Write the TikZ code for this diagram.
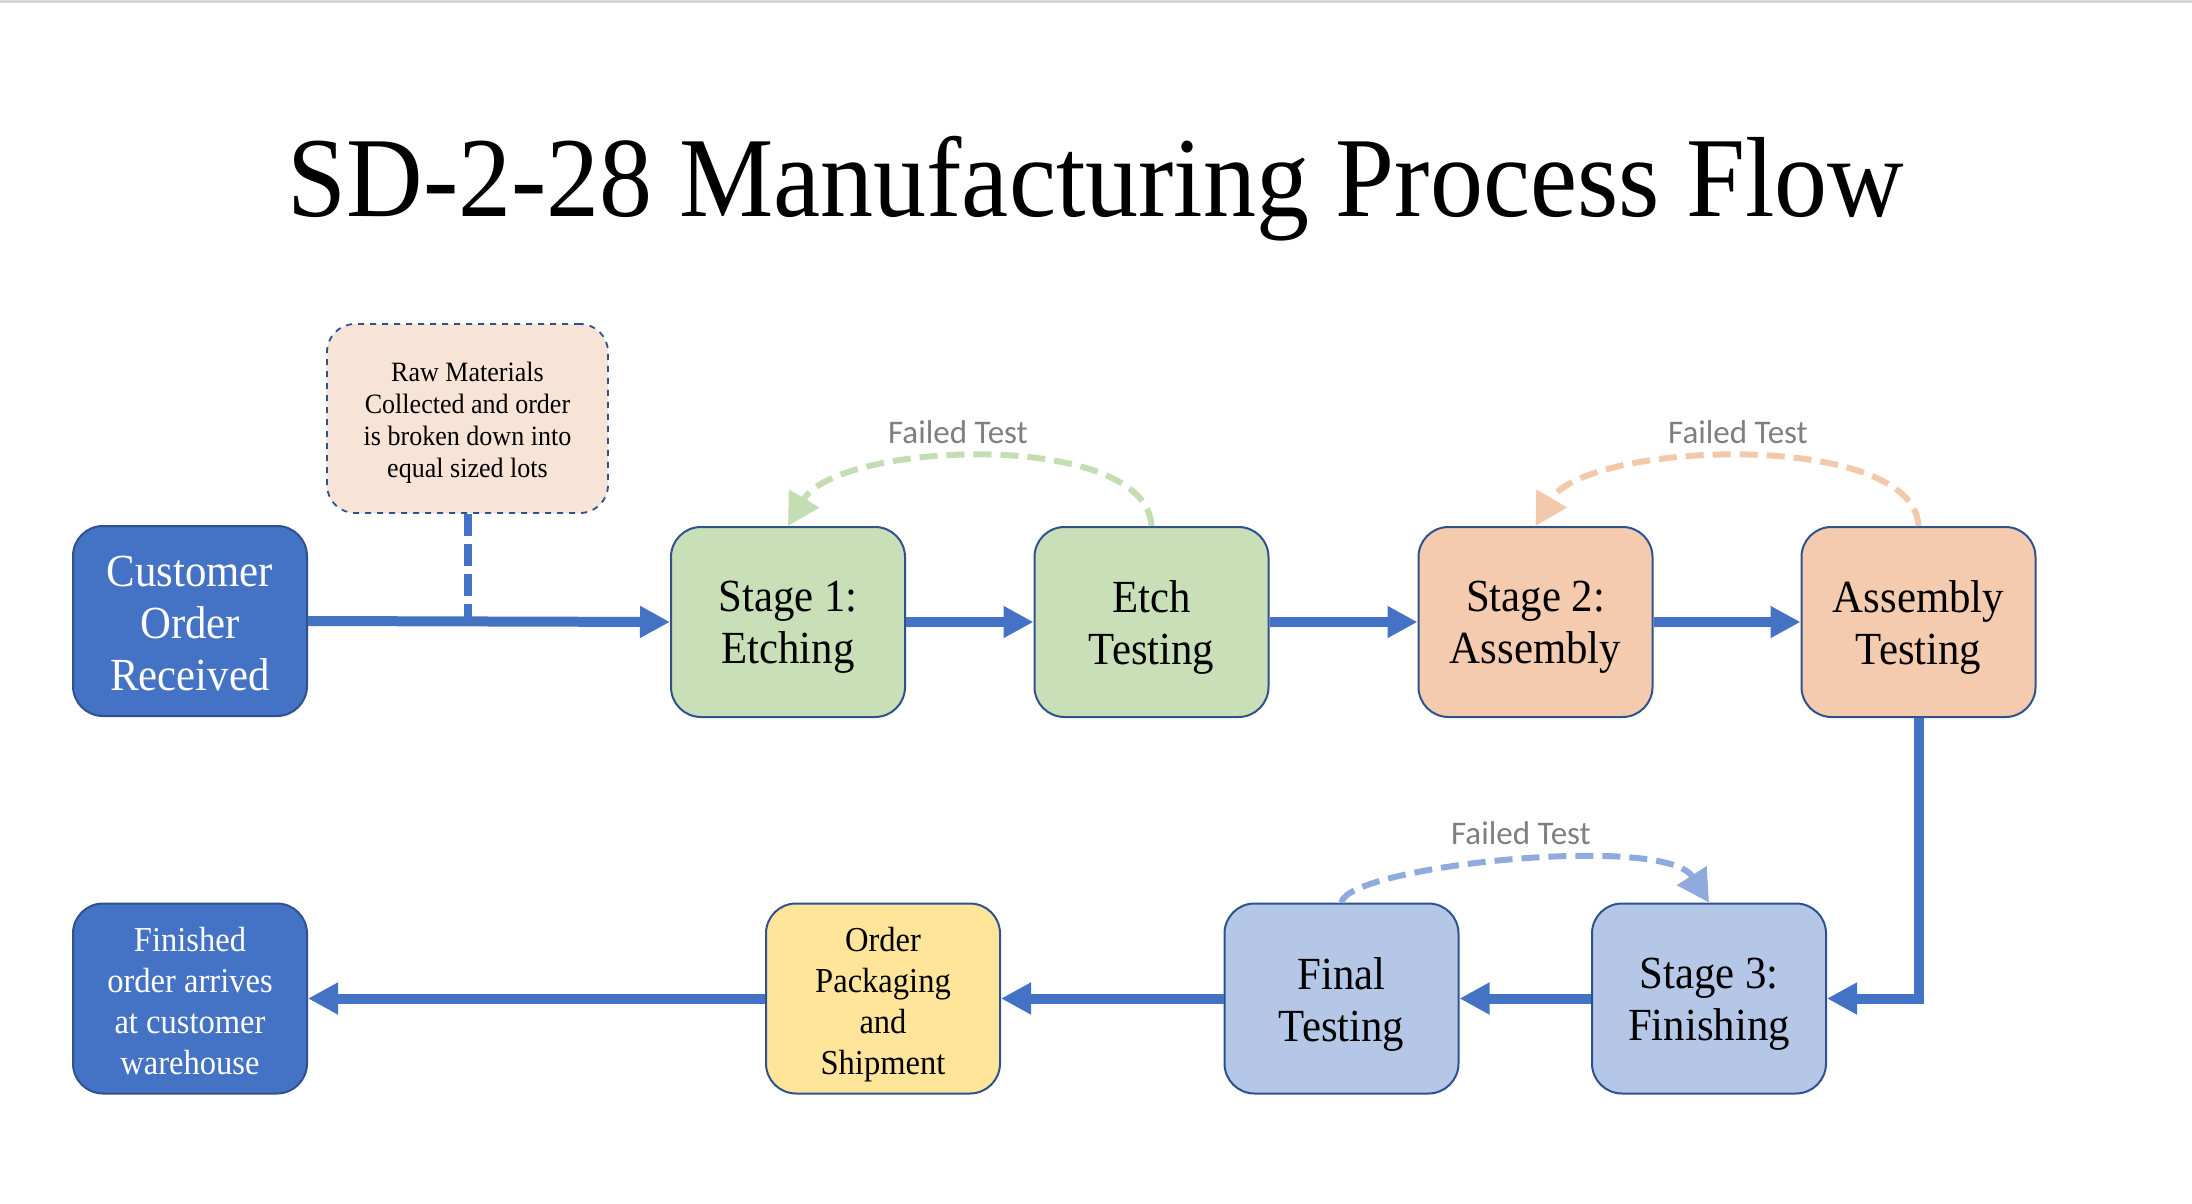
\documentclass[tikz,border=0pt]{standalone}
\usepackage{fontspec}
\setmainfont[FakeStretch=0.93]{Liberation Serif}
\newfontfamily\labelfont{Carlito}
\usetikzlibrary{arrows.meta}
\newcommand{\topgap}[2]{\raisebox{0pt}[\dimexpr\height+#1\relax]{#2}}
\definecolor{navy}{HTML}{4472C4}
\definecolor{boxborder}{HTML}{2F528F}
\definecolor{greenfill}{HTML}{C9DFB7}
\definecolor{orangefill}{HTML}{F4CBAE}
\definecolor{bluefill}{HTML}{B4C7E7}
\definecolor{yellowfill}{HTML}{FEE599}
\definecolor{rawfill}{HTML}{F8E4D6}
\definecolor{arrowblue}{HTML}{4472C4}
\definecolor{greenarc}{HTML}{C5DDB2}
\definecolor{orangearc}{HTML}{F2C9AA}
\definecolor{bluearc}{HTML}{8FAADC}
\definecolor{labelgray}{HTML}{7F7F7F}
\definecolor{topline}{HTML}{D6D6D6}
\tikzset{
  procbox/.style={draw=boxborder, line width=1pt, rounded corners=15pt,
    minimum width=117pt, minimum height=95pt, align=center, inner sep=2pt},
  bigtext/.style={font=\fontsize{23pt}{26pt}\selectfont},
  smalltext/.style={font=\fontsize{17.5pt}{20.5pt}\selectfont},
  flow/.style={draw=arrowblue, line width=5pt,
    -{Triangle[width=15pt,length=15pt]}},
  failarc/.style={line width=3pt, dash pattern=on 9pt off 4.5pt,
    -{Triangle[width=17pt,length=16pt]}},
  faillabel/.style={font=\labelfont\fontsize{16.5pt}{19pt}\selectfont, text=labelgray}
}
\begin{document}
\begin{tikzpicture}[x=0.5pt,y=-0.5pt]
\useasboundingbox (0,0) rectangle (2192,1204);
\fill[white] (0,0) rectangle (2192,1204);
\draw[topline, line width=1.5pt] (0,1.5) coordinate (tl) -- (2192,1.5) coordinate (tr);

% title
\node[anchor=base, font=\fontsize{57pt}{60pt}\selectfont] (title) at (1096,217)
  {SD-2-28 Manufacturing Process Flow};

% top row
\node[procbox, fill=navy, text=white, bigtext] (cust) at (190,621)
  {\topgap{2pt}{Customer}\\Order\\Received};
\node[procbox, fill=greenfill, bigtext] (s1) at (788,622) {\topgap{5.6pt}{Stage 1:}\\Etching};
\node[procbox, fill=greenfill, bigtext] (etch) at (1151.5,622) {\topgap{5.6pt}{Etch}\\Testing};
\node[procbox, fill=orangefill, bigtext] (s2) at (1535.5,622) {\topgap{5.6pt}{Stage 2:}\\Assembly};
\node[procbox, fill=orangefill, bigtext] (at) at (1918.5,622) {\topgap{5.6pt}{Assembly}\\Testing};

% raw materials
\node[draw=boxborder, line width=0.9pt, dashed, fill=rawfill, rounded corners=14pt,
  minimum width=140.5pt, minimum height=94.5pt, align=center,
  font=\fontsize{14pt}{16pt}\selectfont] (raw) at (467.5,418.5)
  {\topgap{4.2pt}{Raw Materials}\\Collected and order\\is broken down into\\equal sized lots};

% bottom row
\node[procbox, fill=navy, text=white, smalltext] (fin) at (190,998.5)
  {\topgap{3pt}{Finished}\\order arrives\\at customer\\warehouse};
\node[procbox, fill=yellowfill, smalltext] (pack) at (883,998.5)
  {\topgap{5.6pt}{Order}\\Packaging\\and\\Shipment};
\node[procbox, fill=bluefill, bigtext] (ft) at (1341.5,998.5) {\topgap{5.6pt}{Final}\\Testing};
\node[procbox, fill=bluefill, bigtext] (s3) at (1709,998.5) {\topgap{5.6pt}{Stage 3:}\\Finishing};

% main flow
\draw[flow] (cust.east) -- (s1.west);
\draw[arrowblue, line width=4pt, dash pattern=on 11pt off 4pt]
  (raw.south) -- (raw.south |- cust.east) coordinate (rawjoin);
\draw[flow] (s1) -- (etch);
\draw[flow] (etch) -- (s2);
\draw[flow] (s2) -- (at);
\draw[flow] (at.south) |- (s3.east);
\draw[flow] (s3) -- (ft);
\draw[flow] (ft) -- (pack);
\draw[flow] (pack) -- (fin);

% failed test loops
\draw[failarc, greenarc] (etch.north) .. controls +(-5,-97) and +(50,-85) .. (s1.north);
\node[faillabel] (fl1) at (958,432) {Failed Test};
\draw[failarc, orangearc] (at.north) .. controls +(-5,-97) and +(50,-85) .. (s2.north);
\node[faillabel] (fl2) at (1738,432) {Failed Test};
\draw[failarc, bluearc] (ft.north) .. controls +(5,-36) and +(-45,-70) .. (s3.north);
\node[faillabel] (fl3) at (1521,833) {Failed Test};
\end{tikzpicture}
\end{document}
